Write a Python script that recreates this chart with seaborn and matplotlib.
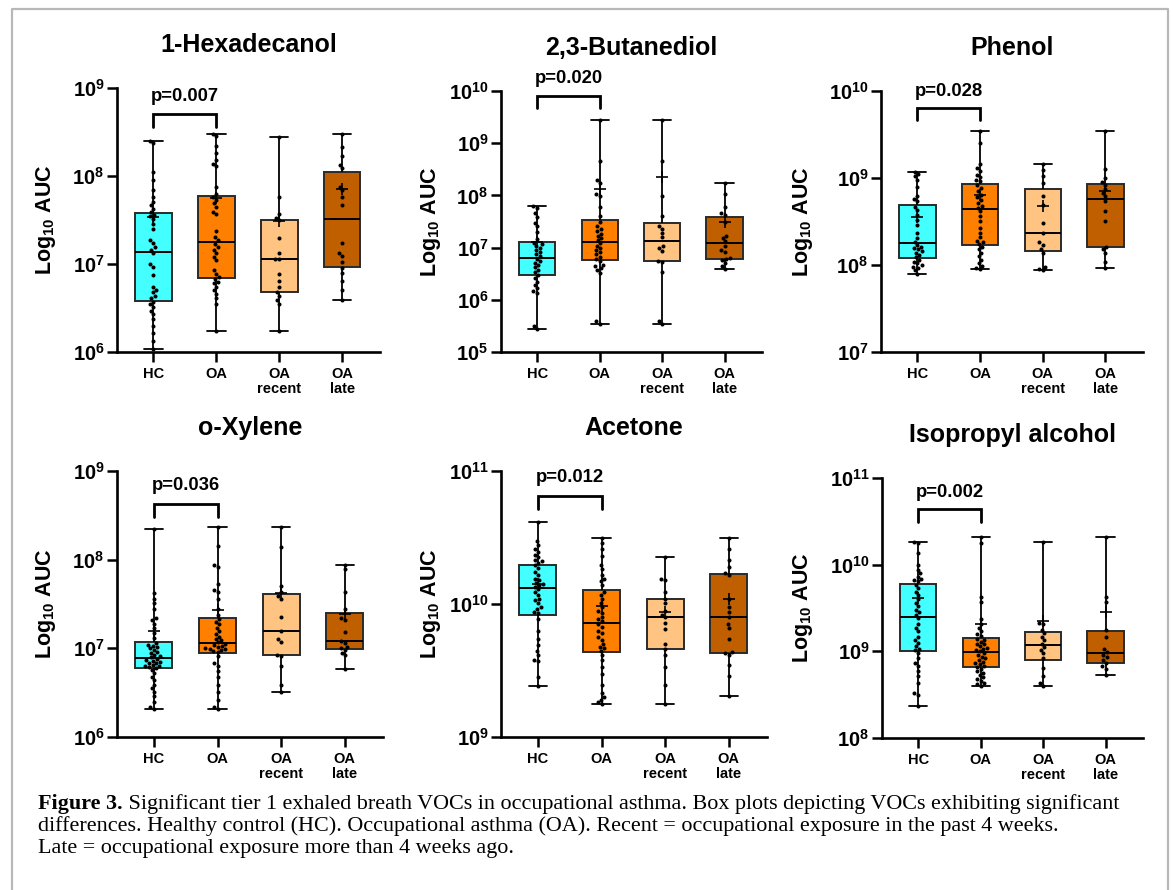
import numpy as np
import pandas as pd
import matplotlib
matplotlib.use("Agg")
import matplotlib.pyplot as plt
import matplotlib.transforms as mtransforms
from matplotlib.lines import Line2D
from matplotlib.ticker import FixedLocator, FuncFormatter, NullLocator
import seaborn as sns

# groups and colours
groups = ["HC", "OA", "OA\nrecent", "OA\nlate"]
colors = ["#43FFFF", "#FF8000", "#FFC482", "#C05F00"]

titles = ["1-Hexadecanol", "2,3-Butanediol", "Phenol", "o-Xylene", "Acetone", "Isopropyl alcohol"]
p_values = ["p=0.007", "p=0.020", "p=0.028", "p=0.036", "p=0.012", "p=0.002"]
y_exponents = [(6, 9), (5, 10), (7, 10), (6, 9), (9, 11), (8, 11)]

# log10(AUC) of every dot
hexadecanol_hc = [8.40, 8.38, 8.05, 7.95, 7.84, 7.76, 7.71, 7.67, 7.63, 7.59, 7.56, 7.54, 7.51, 7.45, 7.40,
                  7.27, 7.24, 7.19, 7.16, 7.12, 7.00, 6.97, 6.87, 6.74, 6.71, 6.68, 6.64, 6.61, 6.57, 6.54,
                  6.51, 6.47, 6.43, 6.38, 6.30, 6.22, 6.12, 6.03]
hexadecanol_oa = [8.48, 8.45, 8.34, 8.26, 8.18, 8.14, 8.11, 7.88, 7.80, 7.76, 7.73, 7.69, 7.65, 7.59, 7.57,
                  7.37, 7.31, 7.27, 7.23, 7.19, 7.16, 7.12, 7.08, 7.04, 6.93, 6.89, 6.85, 6.83, 6.80, 6.78,
                  6.74, 6.70, 6.66, 6.61, 6.55, 6.24]
hexadecanol_recent = [8.44, 7.76, 7.57, 7.52, 7.50, 7.29, 7.12, 7.06, 7.06, 6.89, 6.81, 6.74, 6.68, 6.64,
                      6.59, 6.55, 6.24]
hexadecanol_late = [8.48, 8.33, 8.23, 8.13, 8.09, 7.88, 7.84, 7.76, 7.67, 7.24, 7.12, 7.09, 7.02, 6.95, 6.90,
                    6.81, 6.70, 6.59]

butanediol_hc = [7.79, 7.76, 7.66, 7.59, 7.47, 7.41, 7.29, 7.17, 7.09, 7.06, 7.03, 6.99, 6.95, 6.91, 6.87,
                 6.83, 6.78, 6.74, 6.71, 6.67, 6.63, 6.58, 6.53, 6.48, 6.42, 6.35, 6.29, 6.23, 6.16, 6.13,
                 5.49, 5.44]
butanediol_oa = [9.45, 8.65, 8.30, 8.24, 8.02, 7.98, 7.77, 7.61, 7.50, 7.41, 7.36, 7.31, 7.27, 7.22, 7.18,
                 7.14, 7.08, 7.04, 6.99, 6.95, 6.91, 6.87, 6.82, 6.78, 6.74, 6.67, 6.64, 6.61, 6.57, 6.51,
                 5.59, 5.54]
butanediol_recent = [9.45, 8.65, 7.98, 7.61, 7.41, 7.36, 7.28, 7.20, 7.04, 6.99, 6.93, 6.74, 6.72, 6.53,
                     5.59, 5.54]
butanediol_late = [8.23, 8.02, 7.77, 7.66, 7.62, 7.50, 7.23, 7.19, 7.12, 7.04, 6.96, 6.91, 6.80, 6.78, 6.77,
                   6.71, 6.65, 6.59]

phenol_hc = [9.07, 9.05, 9.02, 8.98, 8.90, 8.79, 8.76, 8.73, 8.67, 8.63, 8.58, 8.52, 8.46, 8.37, 8.31, 8.27,
             8.23, 8.21, 8.20, 8.18, 8.16, 8.14, 8.12, 8.09, 8.06, 8.04, 8.02, 8.00, 7.98, 7.97, 7.94, 7.90]
phenol_oa = [9.54, 9.40, 9.16, 9.11, 9.08, 9.04, 9.01, 8.98, 8.96, 8.92, 8.89, 8.85, 8.81, 8.78, 8.75, 8.71,
             8.68, 8.66, 8.62, 8.56, 8.50, 8.43, 8.37, 8.32, 8.28, 8.26, 8.24, 8.21, 8.18, 8.14, 8.10, 8.06,
             8.02, 7.99, 7.97, 7.95]
phenol_recent = [9.16, 9.09, 9.02, 8.94, 8.79, 8.69, 8.48, 8.37, 8.26, 8.23, 8.18, 8.14, 7.98, 7.95, 7.94]
phenol_late = [9.54, 9.10, 9.00, 8.95, 8.92, 8.87, 8.83, 8.79, 8.73, 8.62, 8.51, 8.21, 8.18, 8.14, 8.03, 7.97]

xylene_hc = [8.35, 7.62, 7.56, 7.51, 7.44, 7.34, 7.32, 7.28, 7.23, 7.17, 7.12, 7.06, 7.04, 7.03, 7.01, 7.00,
             6.98, 6.96, 6.95, 6.93, 6.91, 6.90, 6.88, 6.87, 6.86, 6.85, 6.84, 6.83, 6.81, 6.80, 6.80, 6.79,
             6.78, 6.76, 6.72, 6.68, 6.64, 6.59, 6.55, 6.51, 6.46, 6.40, 6.34, 6.32]
xylene_oa = [8.37, 8.15, 7.94, 7.92, 7.72, 7.66, 7.63, 7.56, 7.44, 7.38, 7.33, 7.30, 7.27, 7.23, 7.19, 7.16,
             7.13, 7.11, 7.09, 7.07, 7.05, 7.04, 7.03, 7.02, 7.00, 6.99, 6.99, 6.98, 6.97, 6.96, 6.91, 6.83,
             6.80, 6.74, 6.68, 6.59, 6.51, 6.42, 6.34, 6.32]
xylene_recent = [8.37, 8.14, 7.70, 7.64, 7.59, 7.56, 7.35, 7.20, 7.10, 7.07, 6.93, 6.91, 6.80, 6.59, 6.51]
xylene_late = [7.94, 7.89, 7.64, 7.44, 7.34, 7.32, 7.18, 7.08, 7.06, 7.02, 7.00, 6.98, 6.95, 6.92, 6.77]

acetone_hc = [10.62, 10.47, 10.44, 10.41, 10.39, 10.37, 10.35, 10.33, 10.32, 10.31, 10.29, 10.27, 10.24,
              10.22, 10.19, 10.18, 10.16, 10.15, 10.14, 10.13, 10.11, 10.09, 10.07, 10.04, 10.03, 10.01,
              9.98, 9.96, 9.94, 9.93, 9.89, 9.80, 9.74, 9.69, 9.65, 9.62, 9.58, 9.57, 9.45, 9.38]
acetone_oa = [10.50, 10.46, 10.41, 10.36, 10.29, 10.26, 10.22, 10.19, 10.17, 10.14, 10.09, 10.07, 10.04,
              10.01, 9.98, 9.95, 9.93, 9.90, 9.89, 9.87, 9.85, 9.83, 9.80, 9.78, 9.75, 9.73, 9.70, 9.68,
              9.67, 9.65, 9.62, 9.58, 9.53, 9.47, 9.39, 9.33, 9.30, 9.28, 9.26, 9.25]
acetone_recent = [10.35, 10.19, 10.18, 10.09, 10.04, 10.01, 9.95, 9.92, 9.90, 9.86, 9.81, 9.70, 9.66, 9.62,
                  9.53, 9.39, 9.25]
acetone_late = [10.50, 10.41, 10.33, 10.28, 10.23, 10.22, 10.04, 9.98, 9.94, 9.90, 9.85, 9.82, 9.74, 9.63,
                9.64, 9.62, 9.54, 9.46, 9.31]

isopropyl_hc = [10.26, 10.25, 10.14, 10.00, 9.94, 9.90, 9.86, 9.84, 9.82, 9.81, 9.77, 9.73, 9.69, 9.65, 9.60,
                9.56, 9.52, 9.48, 9.45, 9.42, 9.38, 9.32, 9.27, 9.23, 9.17, 9.13, 9.10, 9.06, 9.03, 9.01,
                8.98, 8.92, 8.86, 8.83, 8.77, 8.71, 8.63, 8.52, 8.50, 8.37]
isopropyl_oa = [10.32, 10.25, 9.63, 9.57, 9.37, 9.32, 9.27, 9.23, 9.20, 9.18, 9.14, 9.13, 9.11, 9.09, 9.08,
                9.06, 9.04, 9.03, 9.01, 9.00, 8.98, 8.96, 8.94, 8.92, 8.90, 8.88, 8.86, 8.85, 8.83, 8.82,
                8.80, 8.77, 8.75, 8.73, 8.70, 8.68, 8.66, 8.63, 8.62, 8.60]
isopropyl_recent = [10.26, 9.33, 9.31, 9.25, 9.21, 9.17, 9.13, 9.09, 9.05, 9.02, 8.98, 8.92, 8.81, 8.71, 8.63,
                    8.60]
isopropyl_late = [10.32, 9.63, 9.57, 9.25, 9.17, 9.03, 8.99, 8.96, 8.93, 8.90, 8.86, 8.83, 8.80, 8.73]

panels = [
    [hexadecanol_hc, hexadecanol_oa, hexadecanol_recent, hexadecanol_late],
    [butanediol_hc, butanediol_oa, butanediol_recent, butanediol_late],
    [phenol_hc, phenol_oa, phenol_recent, phenol_late],
    [xylene_hc, xylene_oa, xylene_recent, xylene_late],
    [acetone_hc, acetone_oa, acetone_recent, acetone_late],
    [isopropyl_hc, isopropyl_oa, isopropyl_recent, isopropyl_late],
]

caption_bold = "Figure 3."
caption_lines = [
    " Significant tier 1 exhaled breath VOCs in occupational asthma. Box plots depicting VOCs exhibiting significant",
    "differences. Healthy control (HC). Occupational asthma (OA). Recent = occupational exposure in the past 4 weeks.",
    "Late = occupational exposure more than 4 weeks ago.",
]

# layout (pixels: left, top, right, bottom) and annotation placement
W, H = 1174, 890
axes_px = [(117, 88, 380, 352), (501, 91, 762, 352), (881, 91, 1143, 352),
           (117, 471, 383, 737), (501, 471, 767, 737), (882, 478, 1143, 738)]
bracket_top = [0.90, 0.981, 0.936, 0.875, 0.907, 0.880]
bracket_low = [0.854, 0.936, 0.889, 0.828, 0.859, 0.829]
ptext_y = [0.968, 1.049, 1.0, 0.944, 0.975, 0.946]
ylabel_dx = [-59, -58, -66, -59, -58, -67]

sns.set_theme(style="ticks")
plt.rcParams["font.family"] = ["Liberation Sans", "DejaVu Sans"]
plt.rcParams["mathtext.fontset"] = "custom"
plt.rcParams["mathtext.rm"] = "Liberation Sans"
plt.rcParams["mathtext.bf"] = "Liberation Sans:bold"
plt.rcParams["mathtext.default"] = "bf"
for key in ["text.color", "axes.labelcolor", "xtick.color", "ytick.color", "axes.edgecolor"]:
    plt.rcParams[key] = "black"

fig = plt.figure(figsize=(W / 100, H / 100), dpi=100)
fig.patch.set_facecolor("white")

for i, vals in enumerate(panels):
    l, t, r, b = axes_px[i]
    ax = fig.add_axes([l / W, 1 - b / H, (r - l) / W, (b - t) / H])
    df = pd.DataFrame({
        "group": np.repeat(groups, [len(v) for v in vals]),
        "auc": 10 ** np.concatenate(vals),
    })

    sns.boxplot(data=df, x="group", y="auc", hue="group", order=groups, hue_order=groups,
                palette=colors, saturation=1, width=0.58, whis=(0, 100), showfliers=False,
                linewidth=1.4, linecolor="#2a2a2a", legend=False, ax=ax,
                showmeans=True,
                meanprops=dict(marker="+", markeredgecolor="black", markersize=9, markeredgewidth=1.2),
                whiskerprops=dict(color="black", linewidth=1.3),
                capprops=dict(color="black", linewidth=1.3),
                medianprops=dict(color="black", linewidth=1.4))
    sns.swarmplot(data=df, x="group", y="auc", order=groups, color="black", size=2.9, ax=ax)

    lo, hi = y_exponents[i]
    ax.set_yscale("log")
    ax.set_ylim(10.0 ** lo, 10.0 ** hi)
    ax.yaxis.set_major_locator(FixedLocator([10.0 ** e for e in range(lo, hi + 1)]))
    ax.yaxis.set_major_formatter(FuncFormatter(lambda v, pos: r"$10^{%d}$" % round(np.log10(v))))
    ax.yaxis.set_minor_locator(NullLocator())
    ax.set_xlim(-0.58, 3.6)
    ax.set_xticks(range(4))
    ax.set_xticklabels(groups, fontsize=10.5, fontweight="bold", linespacing=1.05)
    ax.tick_params(axis="y", labelsize=14.5, length=7, width=1.8, direction="out", pad=2)
    ax.tick_params(axis="x", length=7, width=1.8, direction="out", pad=4)
    for side in ["left", "bottom"]:
        ax.spines[side].set_linewidth(1.9)
    sns.despine(ax=ax)

    ax.set_xlabel("")
    ax.set_ylabel("Log$_{10}$ AUC", fontsize=15.5, fontweight="bold")
    ax.yaxis.set_label_coords(ylabel_dx[i] / (r - l), 0.5)

    ax.text(0.5, 1 + 43 / (b - t), titles[i], transform=ax.transAxes, ha="center", va="center",
            fontsize=18, fontweight="bold")

    trans = mtransforms.blended_transform_factory(ax.transData, ax.transAxes)
    ax.plot([0, 0, 1, 1], [bracket_low[i], bracket_top[i], bracket_top[i], bracket_low[i]],
            transform=trans, color="black", lw=2, clip_on=False, solid_joinstyle="miter")
    ax.text(0.5, ptext_y[i], p_values[i], transform=trans, ha="center", va="center",
            fontsize=13.3, fontweight="bold")

# caption
serif = ["Liberation Serif", "DejaVu Serif"]
renderer = fig.canvas.get_renderer()
cap_y = [804, 826, 848]
cap_size = 15.9
x0 = 38 / W
tb = fig.text(x0, 1 - cap_y[0] / H, caption_bold, family=serif, fontweight="bold", fontsize=cap_size,
              va="center", ha="left")
bb = tb.get_window_extent(renderer=renderer)
fig.text(bb.x1 / W, 1 - cap_y[0] / H, caption_lines[0], family=serif, fontsize=cap_size,
         va="center", ha="left")
for k in (1, 2):
    fig.text(x0, 1 - cap_y[k] / H, caption_lines[k], family=serif, fontsize=cap_size, va="center", ha="left")

# light frame around the figure
fig.add_artist(Line2D([12 / W, 12 / W, 1168 / W, 1168 / W], [0, 1 - 9 / H, 1 - 9 / H, 0],
                      transform=fig.transFigure, color="#b8b8b8", lw=1.6))

fig.savefig("out.png", dpi=100)
